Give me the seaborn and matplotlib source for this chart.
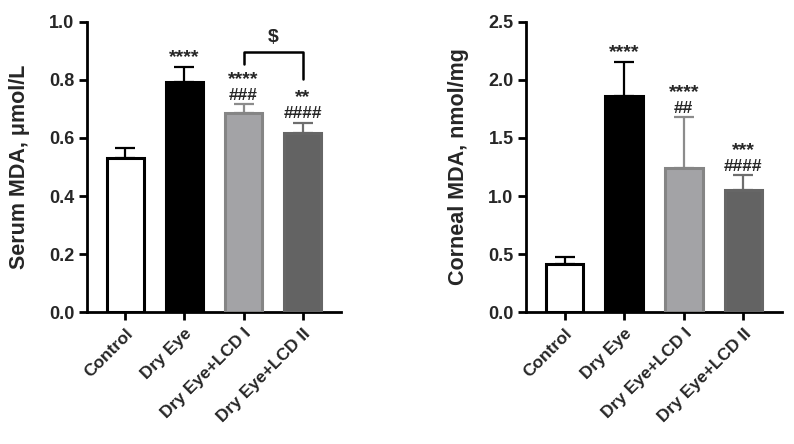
import matplotlib
matplotlib.use("Agg")
import matplotlib.pyplot as plt
import seaborn as sns
import pandas as pd

sns.set_style("ticks")
plt.rcParams["font.family"] = ["Liberation Sans", "DejaVu Sans"]
plt.rcParams["font.weight"] = "bold"

groups = ["Control", "Dry Eye", "Dry Eye+LCD I", "Dry Eye+LCD II"]

serum_mean = [0.531, 0.792, 0.687, 0.617]
serum_err = [0.036, 0.054, 0.031, 0.036]
serum_stars = ["", "****", "****", "**"]
serum_hash = ["", "", "###", "####"]

cornea_mean = [0.414, 1.862, 1.244, 1.052]
cornea_err = [0.060, 0.296, 0.434, 0.129]
cornea_stars = ["", "****", "****", "***"]
cornea_hash = ["", "", "##", "####"]

fills = ["#ffffff", "#000000", "#a3a3a7", "#636363"]
edges = ["#000000", "#000000", "#858585", "#666666"]
errc = ["#000000", "#000000", "#8c8c8c", "#6e6e6e"]

fig = plt.figure(figsize=(7.94, 4.44), dpi=100)
ax1 = fig.add_axes([87 / 794, 1 - 312 / 444, 254 / 794, 290 / 444])
ax2 = fig.add_axes([526 / 794, 1 - 312 / 444, 256 / 794, 290 / 444])


def label(ax, x, y, s, dy, size):
    ax.annotate(s, (x, y), xytext=(0, dy), textcoords="offset points",
                ha="center", va="baseline", fontsize=size, fontweight="bold")


def draw(ax, mean, err, stars, hashes, ylim, step, ylabel):
    df = pd.DataFrame({"group": groups, "value": mean})
    sns.barplot(data=df, x="group", y="value", hue="group", palette=fills,
                legend=False, width=0.63, linewidth=2.2, ax=ax, zorder=3)
    for p, ec in zip(ax.patches, edges):
        p.set_edgecolor(ec)
    for i in range(4):
        ax.errorbar(i, mean[i], yerr=[[0], [err[i]]], fmt="none",
                    ecolor=errc[i], elinewidth=1.6, capsize=7, capthick=1.6,
                    zorder=2)
        top = mean[i] + err[i]
        if hashes[i]:
            label(ax, i, top, hashes[i], 3, 12.5)
            label(ax, i, top, stars[i], 14.5, 14)
        elif stars[i]:
            label(ax, i, top, stars[i], 3.5, 14)
    ax.set_xlim(-0.65, 3.65)
    ax.set_ylim(0, ylim)
    ax.set_yticks([step * k for k in range(int(round(ylim / step)) + 1)])
    ax.yaxis.set_major_formatter(matplotlib.ticker.FormatStrFormatter("%.1f"))
    ax.set_xlabel("")
    ax.set_ylabel(ylabel, fontsize=15.5, fontweight="bold", labelpad=14)
    ax.set_xticks(range(4))
    ax.set_xticklabels(groups, rotation=45, ha="right", rotation_mode="anchor",
                       fontsize=12.5, fontweight="bold")
    for lab in ax.get_yticklabels():
        lab.set_fontsize(13)
        lab.set_fontweight("bold")
    ax.tick_params(axis="both", width=2, length=6, color="black", pad=3)
    ax.tick_params(axis="x", pad=4)
    for s in ["left", "bottom"]:
        ax.spines[s].set_linewidth(2)
        ax.spines[s].set_color("black")
    sns.despine(ax=ax)
    ax.set_facecolor("white")


draw(ax1, serum_mean, serum_err, serum_stars, serum_hash, 1.0, 0.2,
     "Serum MDA, \u03bcmol/L")
draw(ax2, cornea_mean, cornea_err, cornea_stars, cornea_hash, 2.5, 0.5,
     "Corneal MDA, nmol/mg")

# bracket between LCD I and LCD II on serum panel
ax1.plot([2, 2, 3, 3], [0.854, 0.895, 0.895, 0.803], color="black", lw=1.8,
         clip_on=False)
ax1.text(2.5, 0.918, "$", ha="center", va="bottom", fontsize=14,
         fontweight="bold")

fig.savefig("out.png", dpi=100, facecolor="white")
